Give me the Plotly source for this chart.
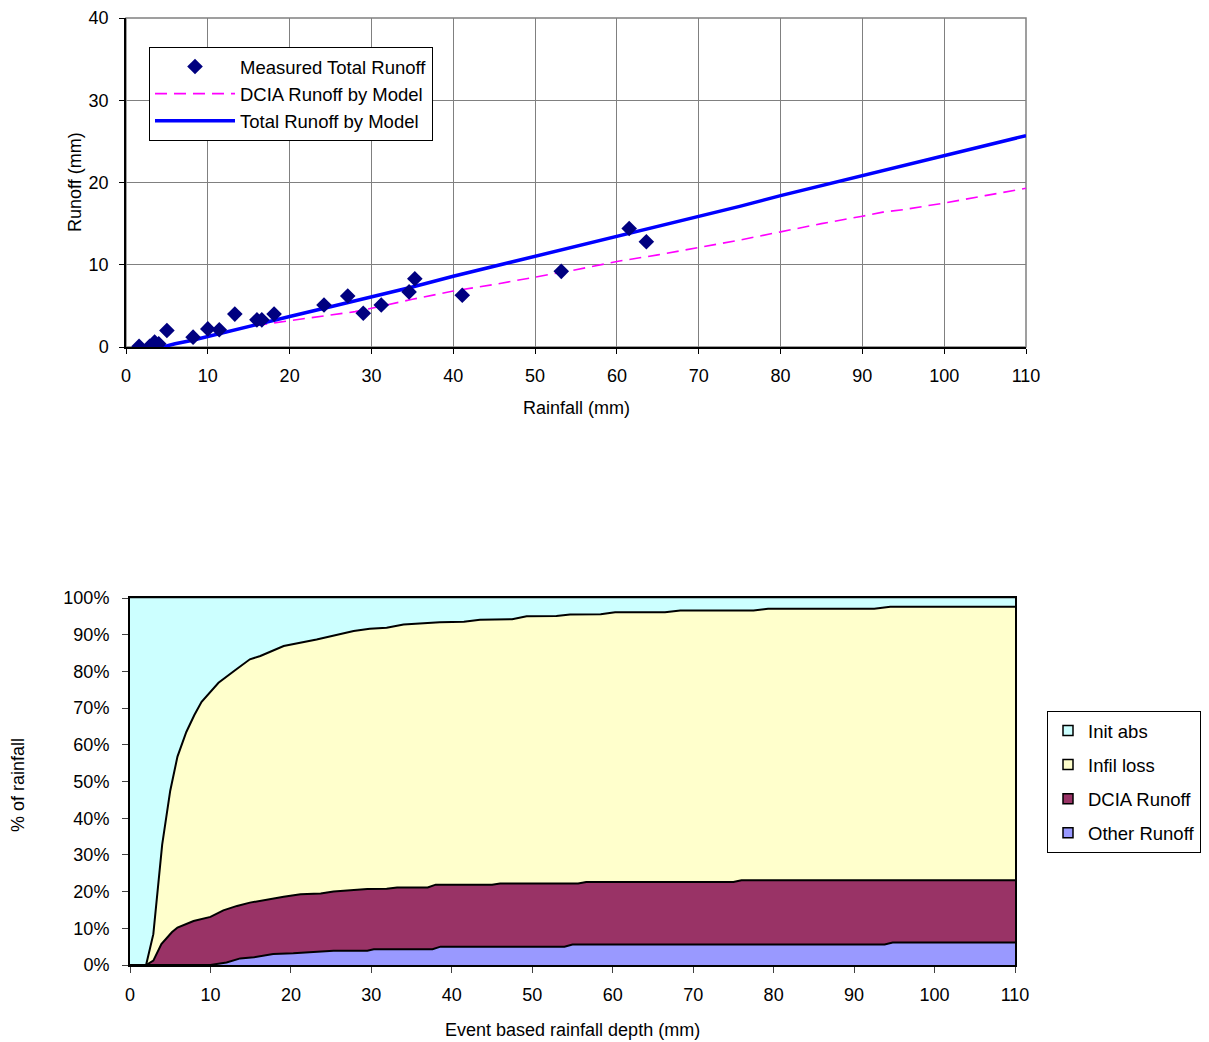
import plotly.graph_objects as go

# ---------------- Top chart data ----------------
meas_rain = [1.6, 2.9, 3.5, 4.0, 5.0, 8.2, 10.0, 11.4, 13.3, 16.0, 16.6, 18.1,
             24.2, 27.1, 29.0, 31.2, 34.6, 35.3, 41.1, 53.2, 61.5, 63.6]
meas_runoff = [0.1, 0.1, 0.6, 0.4, 2.0, 1.2, 2.2, 2.1, 4.0, 3.3, 3.3, 4.0,
               5.1, 6.2, 4.1, 5.1, 6.7, 8.3, 6.3, 9.2, 14.4, 12.8]

model_rain = [4.5, 6, 8, 10, 12, 15, 20, 25, 28, 30, 35, 40, 45, 50, 55, 60, 65,
              70, 75, 80, 85, 90, 92.5, 95, 100, 105, 110]
total_model = [0.0, 0.4, 0.8, 1.3, 1.7, 2.5, 3.7, 4.9, 5.6, 6.1, 7.3, 8.6, 9.8,
               11.0, 12.2, 13.5, 14.7, 15.9, 17.1, 18.4, 19.6, 20.8, 21.4, 22.0,
               23.2, 24.5, 25.7]
dcia_model = [0.0, 0.4, 0.8, 1.3, 1.7, 2.5, 3.2, 3.9, 4.3, 4.7, 5.8, 6.8, 7.6,
              8.5, 9.4, 10.4, 11.2, 12.1, 13.0, 14.0, 15.0, 15.9, 16.4, 16.7,
              17.5, 18.4, 19.3]

# ---------------- Bottom chart data (cumulative % of rainfall) ----------------
other_x = [0, 10.0, 12.0, 13.7, 15.4, 17.8, 20.3, 23.7, 25.3, 29.5, 30.3, 37.6,
           38.6, 54.0, 55.0, 93.8, 94.8, 110]
other_top = [0, 0, 0.7, 1.8, 2.1, 3.0, 3.2, 3.6, 3.9, 3.9, 4.3, 4.3,
             5.0, 5.0, 5.6, 5.6, 6.1, 6.1]

dcia_x = [0, 2.0, 2.9, 3.9, 5.2, 5.9, 7.9, 10.0, 11.6, 13.3, 14.9, 17.0, 19.1,
          21.2, 23.7, 25.3, 27.8, 29.5, 31.9, 33.2, 37.0, 38.0, 45.0, 46.0,
          55.7, 56.7, 75.0, 76.0, 110]
dcia_top = [0, 0, 1.2, 5.7, 8.9, 10.2, 12.0, 13.1, 14.9, 16.1, 17.0, 17.9, 18.6,
            19.3, 19.5, 20.0, 20.4, 20.7, 20.8, 21.1, 21.1, 21.9, 21.9, 22.2,
            22.2, 22.6, 22.6, 23.1, 23.1]

infil_x = [0, 2.0, 2.9, 4.0, 5.0, 5.9, 7.0, 8.0, 8.9, 11.0, 13.1, 14.9, 16.2,
           19.1, 23.2, 27.8, 29.8, 31.9, 34.0, 36.0, 38.5, 41.5, 43.5, 47.5,
           49.3, 53.0, 54.7, 58.5, 60.3, 66.5, 68.4, 77.5, 79.3, 92.5, 94.5, 110]
infil_top = [0, 0, 8.4, 32.8, 47.5, 56.8, 63.5, 68.1, 71.7, 76.9, 80.4, 83.3,
             84.2, 86.9, 88.7, 91.0, 91.6, 91.9, 92.8, 93.1, 93.4, 93.5, 94.1,
             94.2, 95.0, 95.1, 95.5, 95.6, 96.1, 96.1, 96.6, 96.6, 97.1, 97.1,
             97.6, 97.6]

init_x = [0, 110]
init_top = [100, 100]

FONT = "Liberation Sans, Arial, sans-serif"
W, H = 1209, 1042

fig = go.Figure()

# ---- top chart traces ----
fig.add_trace(go.Scatter(x=model_rain, y=dcia_model, mode="lines",
                         name="DCIA Runoff by Model", legendrank=2,
                         line=dict(color="#FF00FF", width=1.6, dash="12px,7px"),
                         xaxis="x", yaxis="y", legend="legend"))
fig.add_trace(go.Scatter(x=model_rain, y=total_model, mode="lines",
                         name="Total Runoff by Model", legendrank=3,
                         line=dict(color="#0000FF", width=3.5),
                         xaxis="x", yaxis="y", legend="legend"))
fig.add_trace(go.Scatter(x=meas_rain, y=meas_runoff, mode="markers",
                         name="Measured Total Runoff", legendrank=1,
                         marker=dict(symbol="diamond", size=12, color="#000080"),
                         xaxis="x", yaxis="y", legend="legend"))

# ---- bottom chart areas ----
edge = dict(color="black", width=2)
fig.add_trace(go.Scatter(x=other_x, y=other_top, mode="lines", fill="tozeroy",
                         fillcolor="#9999FF", line=edge, showlegend=False,
                         xaxis="x2", yaxis="y2", hoverinfo="skip"))
fig.add_trace(go.Scatter(x=dcia_x, y=dcia_top, mode="lines", fill="tonexty",
                         fillcolor="#993366", line=edge, showlegend=False,
                         xaxis="x2", yaxis="y2", hoverinfo="skip"))
fig.add_trace(go.Scatter(x=infil_x, y=infil_top, mode="lines", fill="tonexty",
                         fillcolor="#FFFFCC", line=edge, showlegend=False,
                         xaxis="x2", yaxis="y2", hoverinfo="skip"))
fig.add_trace(go.Scatter(x=init_x, y=init_top, mode="lines", fill="tonexty",
                         fillcolor="#CCFFFF", line=dict(color="black", width=0.5),
                         showlegend=False, xaxis="x2", yaxis="y2", hoverinfo="skip"))

# legend entries for bottom chart
leg_names = ["Init abs", "Infil loss", "DCIA Runoff", "Other Runoff"]
leg_colors = ["#CCFFFF", "#FFFFCC", "#993366", "#9999FF"]
for i, (nm, col) in enumerate(zip(leg_names, leg_colors)):
    fig.add_trace(go.Scatter(x=[None], y=[None], mode="markers", name=nm,
                             legendgroup="g%d" % i, legendrank=i + 1,
                             marker=dict(symbol="square", size=10, color=col,
                                         line=dict(color="black", width=1.5)),
                             xaxis="x2", yaxis="y2", legend="legend2"))

def px_x(p):
    return p / W

def px_y(p):
    return 1 - p / H

tickfont = dict(family=FONT, size=18, color="black")

fig.update_layout(
    width=W, height=H,
    margin=dict(l=0, r=0, t=0, b=0, autoexpand=False),
    paper_bgcolor="white", plot_bgcolor="white",
    font=dict(family=FONT, size=18, color="black"),
    xaxis=dict(domain=[px_x(126), px_x(1026)], range=[0, 110], dtick=10,
               showgrid=True, gridcolor="#808080", gridwidth=1,
               showline=True, linecolor="black", linewidth=1.5,
               ticks="outside", ticklen=5, tickcolor="black",
               tickfont=tickfont, zeroline=False, anchor="y",
               ticklabelstandoff=7, automargin=False),
    yaxis=dict(domain=[px_y(347), px_y(18)], range=[0, 40], dtick=10,
               showgrid=True, gridcolor="#808080", gridwidth=1,
               showline=True, linecolor="black", linewidth=1.5,
               ticks="outside", ticklen=5, tickcolor="black",
               tickfont=tickfont, zeroline=False, anchor="x",
               ticklabelstandoff=7, automargin=False),
    xaxis2=dict(domain=[px_x(130), px_x(1015)], range=[0, 110], dtick=10,
                showgrid=False, showline=True, linecolor="black", linewidth=2,
                mirror=True, ticks="outside", ticklen=6, tickcolor="#404040",
                tickfont=tickfont, zeroline=False, anchor="y2",
                ticklabelstandoff=6, automargin=False),
    yaxis2=dict(domain=[px_y(965), px_y(598)], range=[0, 100], dtick=10,
                ticksuffix="%", showgrid=False, showline=True,
                linecolor="black", linewidth=2, mirror=True,
                ticks="outside", ticklen=6, tickcolor="#404040",
                tickfont=tickfont, zeroline=False, anchor="x2",
                ticklabelstandoff=9, automargin=False),
    legend=dict(x=px_x(149), y=px_y(47), xanchor="left", yanchor="top",
                bordercolor="black", borderwidth=1, bgcolor="white",
                font=dict(family=FONT, size=18.5), itemwidth=80,
                traceorder="normal", tracegroupgap=0),
    legend2=dict(x=px_x(1047), y=px_y(711), xanchor="left", yanchor="top",
                 bordercolor="black", borderwidth=1, bgcolor="white",
                 font=dict(family=FONT, size=18.5), itemwidth=30,
                 traceorder="grouped", tracegroupgap=7),
    shapes=[dict(type="rect", xref="x domain", yref="y domain",
                 x0=0, x1=1, y0=0, y1=1,
                 line=dict(color="#808080", width=1.5), layer="below")],
    annotations=[
        dict(text="Rainfall (mm)", x=px_x(576), y=px_y(408), xref="paper",
             yref="paper", showarrow=False, xanchor="center", yanchor="middle",
             font=dict(family=FONT, size=18)),
        dict(text="Runoff (mm)", x=px_x(75), y=px_y(182), xref="paper",
             yref="paper", showarrow=False, xanchor="center", yanchor="middle",
             textangle=-90, font=dict(family=FONT, size=18)),
        dict(text="Event based rainfall depth (mm)", x=px_x(572), y=px_y(1030),
             xref="paper", yref="paper", showarrow=False, xanchor="center",
             yanchor="middle", font=dict(family=FONT, size=18)),
        dict(text="% of rainfall", x=px_x(18), y=px_y(785), xref="paper",
             yref="paper", showarrow=False, xanchor="center", yanchor="middle",
             textangle=-90, font=dict(family=FONT, size=18)),
    ],
)

fig.write_html("out.html")
